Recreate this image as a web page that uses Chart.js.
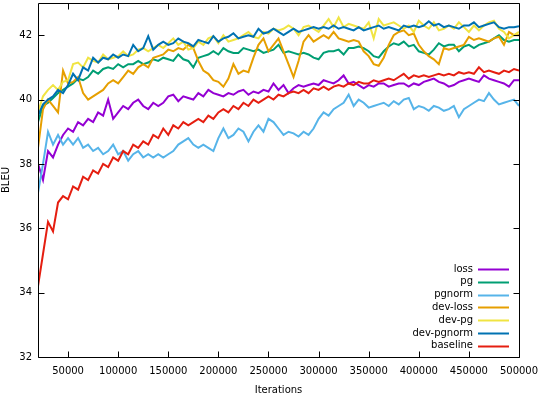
<!DOCTYPE html>
<html>
<head>
<meta charset="utf-8">
<script src="https://cdn.jsdelivr.net/npm/chart.js@4"></script>
<style>
  html, body { margin: 0; padding: 0; background: #fff; }
  #wrap { width: 540px; height: 394px; position: relative; }
</style>
</head>
<body>
<div id="wrap"><canvas id="c" width="540" height="394"></canvas></div>
<script>
// ---- data ----
const iterations = Array.from({length: 97}, (_, i) => 20000 + 5000 * i);
const xTickValues = [50000, 100000, 150000, 200000, 250000, 300000, 350000, 400000, 450000, 500000];
const yTickValues = [32, 34, 36, 38, 40, 42];
const seriesNames = ['loss', 'pg', 'pgnorm', 'dev-loss', 'dev-pg', 'dev-pgnorm', 'baseline'];

const loss = [
  38.0, 37.5, 38.4, 38.2, 38.6, 38.9, 39.1, 39.0, 39.3, 39.2,
  39.4, 39.3, 39.6, 39.5, 40.0, 39.4, 39.6, 39.8, 39.7, 39.9,
  40.0, 39.8, 39.7, 39.9, 39.8, 39.9, 40.1, 40.15, 39.95, 40.1,
  40.05, 40.0, 40.2, 40.1, 40.3, 40.2, 40.15, 40.1, 40.2, 40.15,
  40.25, 40.3, 40.15, 40.25, 40.2, 40.3, 40.25, 40.5, 40.3, 40.45,
  40.2, 40.35, 40.45, 40.4, 40.45, 40.5, 40.45, 40.6, 40.55, 40.5,
  40.6, 40.75, 40.5, 40.55, 40.45, 40.35, 40.45, 40.4, 40.5, 40.5,
  40.4, 40.45, 40.5, 40.5, 40.4, 40.5, 40.45, 40.55, 40.6, 40.65,
  40.55, 40.5, 40.4, 40.45, 40.55, 40.6, 40.65, 40.6, 40.55, 40.75,
  40.65, 40.6, 40.55, 40.5, 40.4, 40.6, 40.6
];
const pg = [
  39.3, 39.8, 39.9, 40.05, 40.2, 40.3, 40.4, 40.5, 40.65, 40.6,
  40.7, 40.9, 40.8, 40.95, 41.0, 40.95, 41.1, 41.0, 41.1, 41.1,
  41.2, 41.1, 41.15, 41.25, 41.2, 41.3, 41.25, 41.2, 41.4, 41.25,
  41.2, 41.0, 41.3, 41.35, 41.4, 41.5, 41.4, 41.6, 41.5, 41.45,
  41.45, 41.6, 41.55, 41.5, 41.55, 41.45, 41.5, 41.55, 41.7, 41.45,
  41.5, 41.45, 41.4, 41.45, 41.4, 41.3, 41.25, 41.45, 41.5, 41.5,
  41.55, 41.4, 41.6, 41.6, 41.65, 41.6, 41.5, 41.35, 41.3, 41.5,
  41.65, 41.75, 41.7, 41.8, 41.65, 41.7, 41.5, 41.45, 41.4, 41.55,
  41.75, 41.65, 41.7, 41.7, 41.5, 41.65, 41.7, 41.6, 41.7, 41.75,
  41.8, 41.9, 42.0, 41.85, 41.8, 41.85, 41.85
];
const pgnorm = [
  37.1, 38.0, 39.0, 38.6, 38.9, 38.6, 38.8, 38.6, 38.8, 38.5,
  38.6, 38.4, 38.5, 38.3, 38.4, 38.6, 38.3, 38.4, 38.1, 38.3,
  38.4, 38.2, 38.3, 38.2, 38.3, 38.2, 38.3, 38.4, 38.6, 38.7,
  38.8, 38.6, 38.5, 38.6, 38.5, 38.4, 38.8, 39.1, 38.8, 38.9,
  39.1, 39.0, 38.7, 39.0, 39.2, 39.0, 39.4, 39.3, 39.1, 38.9,
  39.0, 38.95, 38.85, 39.0, 38.9, 39.1, 39.4, 39.6, 39.5, 39.7,
  39.8, 39.9, 40.15, 39.8, 40.0, 39.9, 39.75, 39.8, 39.85, 39.9,
  39.8, 39.95, 39.85, 40.0, 40.05, 39.7, 39.8, 39.75, 39.65, 39.8,
  39.75, 39.65, 39.7, 39.8, 39.45, 39.7, 39.8, 39.9, 40.0, 39.95,
  40.2, 40.0, 39.85, 39.9, 39.95, 40.0, 39.8
];
const devLoss = [
  38.5, 39.7, 40.0, 39.8, 39.6, 40.9, 40.5, 40.55, 40.7, 40.2,
  40.0, 40.1, 40.2, 40.3, 40.5, 40.6, 40.5, 40.7, 40.9, 40.8,
  41.0, 41.1, 41.0, 41.3, 41.35, 41.4, 41.55, 41.5, 41.6, 41.55,
  41.7, 41.6, 41.2, 40.9, 40.8, 40.6, 40.55, 40.4, 40.65, 41.1,
  40.8, 40.9, 40.85, 41.3, 41.7, 41.9, 41.5, 41.7, 41.9, 41.5,
  41.1, 40.7, 41.2, 41.8, 42.0, 41.8, 41.9, 42.0, 41.9, 42.1,
  41.9, 41.85, 41.8, 41.85, 41.8, 41.5, 41.35, 41.1, 41.05, 41.3,
  41.7, 42.0, 42.1, 42.15, 42.0, 42.05, 41.7, 41.5, 41.35, 41.25,
  41.1, 41.6, 41.55, 41.6, 41.65, 41.7, 41.95, 41.85, 41.9, 41.85,
  41.8, 41.9, 41.95, 41.7, 42.1, 42.0, 42.0
];
const devPg = [
  39.6, 40.1, 40.3, 40.45, 40.3, 40.55, 40.6, 41.1, 41.15, 41.0,
  41.3, 41.2, 41.15, 41.4, 41.25, 41.3, 41.35, 41.5, 41.35, 41.4,
  41.55, 41.6, 41.5, 41.6, 41.7, 41.6, 41.75, 41.9, 41.7, 41.8,
  41.55, 41.6, 41.8, 41.7, 41.9, 41.97, 41.75, 42.0, 41.8, 41.85,
  41.9, 42.0, 42.1, 41.95, 41.9, 42.1, 42.05, 42.2, 42.15, 42.2,
  42.3, 42.2, 42.0, 42.25, 42.3, 42.2, 42.1, 42.3, 42.5, 42.25,
  42.55, 42.25, 42.35, 42.3, 42.25, 42.2, 42.4, 41.9, 42.5, 42.3,
  42.35, 42.4, 42.3, 42.2, 42.3, 42.1, 42.45, 42.3, 42.2, 42.4,
  42.15, 42.2, 42.3, 42.2, 42.4, 42.25, 42.1, 42.3, 42.15, 42.3,
  42.4, 42.45, 42.2, 42.1, 41.9, 42.0, 42.1
];
const devPgnorm = [
  39.5, 39.85, 40.0, 40.1, 40.3, 40.2, 40.45, 40.8, 40.6, 41.0,
  40.9, 41.3, 41.15, 41.3, 41.25, 41.4, 41.3, 41.4, 41.35, 41.7,
  41.5, 41.6, 41.97, 41.55, 41.7, 41.8, 41.7, 41.75, 41.9, 41.8,
  41.75, 41.65, 41.85, 41.8, 41.75, 41.97, 41.8, 41.9, 41.95, 42.06,
  41.9, 41.95, 42.0, 41.95, 42.2, 42.05, 42.1, 42.2, 42.1, 42.0,
  42.1, 42.2, 42.1, 42.15, 42.2, 42.25, 42.2, 42.25, 42.2, 42.3,
  42.2, 42.25, 42.2, 42.15, 42.25, 42.15, 42.2, 42.25, 42.3, 42.2,
  42.25, 42.2, 42.15, 42.3, 42.25, 42.3, 42.25, 42.3, 42.43, 42.3,
  42.35, 42.25, 42.3, 42.25, 42.2, 42.3, 42.3, 42.4, 42.25, 42.3,
  42.35, 42.4, 42.25, 42.2, 42.25, 42.25, 42.28
];
const baseline = [
  34.2, 35.2, 36.2, 35.9, 36.8, 37.0, 36.9, 37.3, 37.2, 37.6,
  37.5, 37.8, 37.7, 38.0, 37.9, 38.2, 38.1, 38.4, 38.3, 38.6,
  38.5, 38.7, 38.6, 38.9, 38.8, 39.1, 38.9, 39.2, 39.1, 39.3,
  39.2, 39.3, 39.4, 39.3, 39.5, 39.4, 39.6, 39.7, 39.6, 39.8,
  39.7, 39.9, 39.8, 40.0, 39.9, 40.0, 40.1, 40.0, 40.15, 40.1,
  40.2, 40.25, 40.2, 40.3, 40.2, 40.35, 40.3, 40.4, 40.3, 40.4,
  40.45, 40.4, 40.5, 40.45, 40.55, 40.5, 40.5, 40.6, 40.55, 40.6,
  40.65, 40.6, 40.7, 40.8, 40.65, 40.75, 40.7, 40.75, 40.7, 40.75,
  40.8, 40.75, 40.8, 40.75, 40.85, 40.8, 40.85, 40.8, 41.0, 40.85,
  40.9, 40.85, 40.8, 40.9, 40.85, 40.95, 40.9
];

const seriesValues = [loss, pg, pgnorm, devLoss, devPg, devPgnorm, baseline];
const seriesColors = ['#9400d3', '#009e73', '#56b4e9', '#e69f00', '#f0e442', '#0072b2', '#e51e10'];

const FONT = 'DejaVu Sans';

const datasets = seriesNames.map((name, i) => ({
  label: name,
  data: iterations.map((x, j) => ({x: x, y: seriesValues[i][j]})),
  borderColor: seriesColors[i],
  backgroundColor: seriesColors[i],
  borderWidth: 2,
  pointRadius: 0,
  tension: 0,
  fill: false,
  order: seriesNames.length - i   // later series drawn on top (gnuplot order)
}));

// gnuplot-style frame, inward mirrored ticks, and legend
const framePlugin = {
  id: 'frame',
  afterDatasetsDraw(chart) {
    const ctx = chart.ctx;
    const a = chart.chartArea;
    const xs = chart.scales.x, ys = chart.scales.y;
    const L = Math.round(a.left) + 0.5, R = Math.round(a.right) + 0.5;
    const T = Math.round(a.top) + 0.5, B = Math.round(a.bottom) + 0.5;
    ctx.save();
    ctx.strokeStyle = '#000';
    ctx.lineWidth = 1;
    ctx.beginPath();
    ctx.rect(L, T, R - L, B - T);
    const tl = 6;
    xTickValues.forEach(v => {
      const px = Math.round(xs.getPixelForValue(v)) + 0.5;
      ctx.moveTo(px, B); ctx.lineTo(px, B - tl);
      ctx.moveTo(px, T); ctx.lineTo(px, T + tl);
    });
    yTickValues.forEach(v => {
      const py = Math.round(ys.getPixelForValue(v)) + 0.5;
      ctx.moveTo(L, py); ctx.lineTo(L + tl, py);
      ctx.moveTo(R, py); ctx.lineTo(R - tl, py);
    });
    ctx.stroke();

    // legend (gnuplot style: right-aligned text, line sample to the right)
    ctx.font = '10px "' + FONT + '"';
    ctx.textAlign = 'right';
    ctx.textBaseline = 'middle';
    const textRight = a.right - 46;
    const lineX0 = a.right - 41, lineX1 = a.right - 10;
    const y0 = a.bottom - 88, dy = 12.8;
    seriesNames.forEach((name, i) => {
      const y = y0 + i * dy;
      ctx.fillStyle = '#000';
      ctx.fillText(name, textRight, y);
      ctx.strokeStyle = seriesColors[i];
      ctx.lineWidth = 2;
      ctx.beginPath();
      ctx.moveTo(lineX0, Math.round(y) + 0.5);
      ctx.lineTo(lineX1, Math.round(y) + 0.5);
      ctx.stroke();
    });
    ctx.restore();
  }
};

new Chart(document.getElementById('c'), {
  type: 'line',
  data: { datasets: datasets },
  options: {
    responsive: false,
    animation: false,
    events: [],
    layout: { padding: { left: 0, right: 21, top: 3, bottom: 0 } },
    plugins: { legend: { display: false }, tooltip: { enabled: false } },
    scales: {
      x: {
        type: 'linear',
        min: 20000, max: 500000,
        afterBuildTicks: s => { s.ticks = xTickValues.map(v => ({value: v})); },
        afterFit: s => { s.height = 37; s.paddingLeft = 0; s.paddingRight = 0; s.paddingTop = 0; s.paddingBottom = 0; },
        grid: { display: false, drawTicks: false },
        border: { display: false },
        ticks: { color: '#000', font: { family: FONT, size: 10 }, padding: 8, maxRotation: 0, autoSkip: false,
                 callback: v => String(v) },
        title: { display: true, text: 'Iterations', color: '#000', font: { family: FONT, size: 10 }, padding: { top: 0, bottom: -2 } }
      },
      y: {
        type: 'linear',
        min: 32, max: 43,
        afterBuildTicks: s => { s.ticks = yTickValues.map(v => ({value: v})); },
        afterFit: s => { s.width = 38; s.paddingLeft = 0; s.paddingRight = 0; s.paddingTop = 0; s.paddingBottom = 0; },
        grid: { display: false, drawTicks: false },
        border: { display: false },
        ticks: { color: '#000', font: { family: FONT, size: 10 }, padding: 6, callback: v => String(v) },
        title: { display: true, text: 'BLEU', color: '#000', font: { family: FONT, size: 10 }, padding: { top: 0, bottom: 0 } }
      }
    }
  },
  plugins: [framePlugin]
});
</script>
</body>
</html>
